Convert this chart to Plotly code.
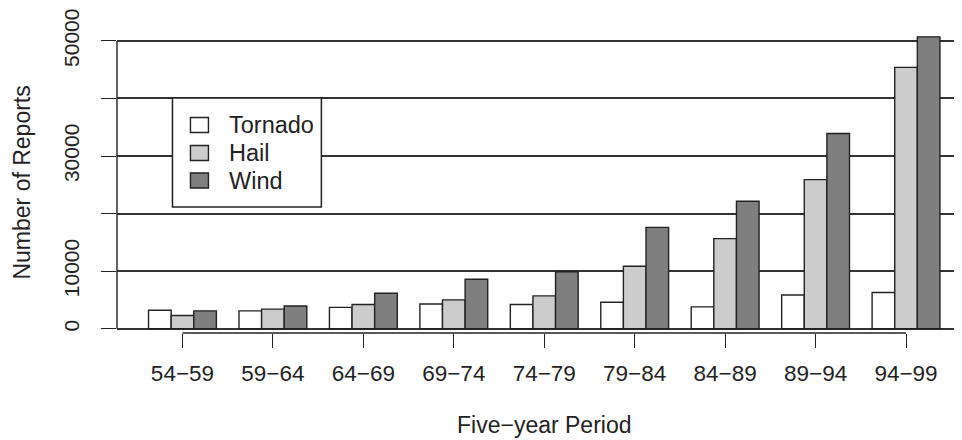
import plotly.graph_objects as go

periods = ["54\u221259", "59\u221264", "64\u221269", "69\u221274", "74\u221279",
           "79\u221284", "84\u221289", "89\u221294", "94\u221299"]
tornado = [3200, 3100, 3700, 4300, 4200, 4600, 3800, 5850, 6300]
hail = [2300, 3400, 4200, 5000, 5700, 10850, 15650, 25900, 45400]
wind = [3100, 3950, 6150, 8600, 9900, 17600, 22150, 33900, 50700]

y_tick_vals = [0, 10000, 20000, 30000, 40000, 50000]
y_tick_text = ["0", "10000", "", "30000", "", "50000"]

series_names = ["Tornado", "Hail", "Wind"]
series_values = [tornado, hail, wind]
series_colors = ["#ffffff", "#cccccc", "#7f7f7f"]

INK = "#222222"
GRID = "#333333"
FONT = "Liberation Sans, Arial, Helvetica, sans-serif"

# page body has an 8px margin; figure is sized to fill the rest of the window
OFF = 8
W, H = 962 - OFF, 440 - OFF
# plot area in window pixels
PX_L, PX_R, PX_T, PX_B = 116.5, 962, 10, 333
L = PX_L - OFF
R = 962 - PX_R
T = PX_T - OFF
B = 440 - PX_B
PW = W - L - R
PH = H - T - B


def px2x(px):
    return (px - PX_L) / PW


def py2y(py):
    return (PX_B - py) / PH


px_per_unit = 57.56 / 10000.0
zero_px = 328.7
ymin = -(PX_B - zero_px) / px_per_unit
ymax = (zero_px - PX_T) / px_per_unit
cat_sp = 90.5
xmin = -(182 - PX_L) / cat_sp
xmax = 8 + (PX_R - 906) / cat_sp

fig = go.Figure()
for name, vals, col in zip(series_names, series_values, series_colors):
    fig.add_trace(go.Bar(
        x=periods, y=vals, name=name, showlegend=False,
        marker=dict(color=col, line=dict(color=INK, width=1.4)),
    ))

fig.update_layout(
    width=W, height=H,
    margin=dict(l=L, r=R, t=T, b=B, pad=0, autoexpand=False),
    paper_bgcolor="white", plot_bgcolor="white",
    font=dict(family=FONT, color=INK, size=22),
    barmode="group", bargap=0.25, bargroupgap=0,
    showlegend=False,
    xaxis=dict(
        type="category", range=[xmin, xmax], automargin=False,
        showline=False, showgrid=False, zeroline=False,
        ticks="outside", ticklen=14, tickwidth=1.4, tickcolor=INK,
        ticklabelstandoff=6,
        tickfont=dict(size=22.5, family=FONT, color=INK),
    ),
    yaxis=dict(
        range=[ymin, ymax], automargin=False,
        tickvals=y_tick_vals, ticktext=y_tick_text, tickangle=-90,
        ticklabeloverflow="allow",
        showline=False, showgrid=True, gridcolor=GRID, gridwidth=1.5,
        zeroline=True, zerolinecolor=GRID, zerolinewidth=1.5,
        ticks="outside", ticklen=15, tickwidth=1.4, tickcolor=INK,
        ticklabelstandoff=14,
        tickfont=dict(size=21, family=FONT, color=INK),
    ),
)

# x axis line spanning the first to last tick
fig.add_shape(type="line", xref="x", yref="paper",
              x0=0, x1=len(periods) - 1, y0=0, y1=0,
              line=dict(color=INK, width=1.4))
# y axis line spanning the first to last tick
fig.add_shape(type="line", xref="paper", yref="y",
              x0=0, x1=0, y0=y_tick_vals[0], y1=y_tick_vals[-1],
              line=dict(color=INK, width=1.4))

# legend box (drawn as a guide in paper space)
fig.add_shape(type="rect", xref="paper", yref="paper",
              x0=px2x(172), x1=px2x(321), y0=py2y(207), y1=py2y(98),
              fillcolor="white", line=dict(color=INK, width=1.5), layer="above")
leg_centres = [125, 153, 180.5]
for name, col, cy in zip(series_names, series_colors, leg_centres):
    fig.add_shape(type="rect", xref="paper", yref="paper",
                  x0=px2x(190), x1=px2x(208), y0=py2y(cy + 7.5), y1=py2y(cy - 7.5),
                  fillcolor=col, line=dict(color=INK, width=1.4), layer="above")
    fig.add_annotation(text=name, xref="paper", yref="paper",
                       x=px2x(227), y=py2y(cy), xanchor="left", yanchor="middle",
                       showarrow=False,
                       font=dict(size=23.5, family=FONT, color=INK))

fig.add_annotation(text="Five\u2212year Period", xref="x", yref="paper",
                   x=(len(periods) - 1) / 2, y=py2y(425),
                   xanchor="center", yanchor="middle", showarrow=False,
                   font=dict(size=23, family=FONT, color=INK))
fig.add_annotation(text="Number of Reports", xref="paper", yref="paper",
                   x=px2x(21), y=py2y(183),
                   xanchor="center", yanchor="middle", textangle=-90,
                   showarrow=False,
                   font=dict(size=23, family=FONT, color=INK))

fig.write_html("out.html")
